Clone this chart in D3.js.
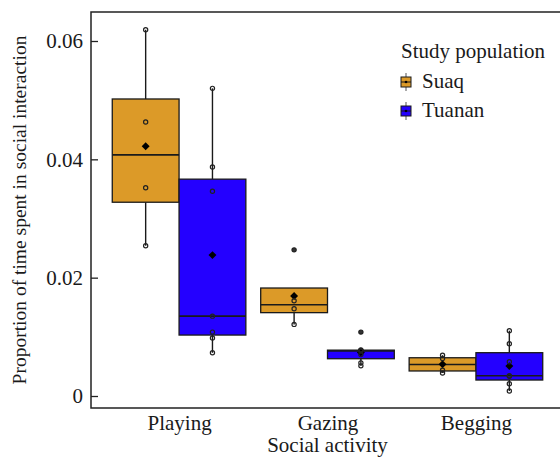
<!DOCTYPE html>
<html>
<head>
<meta charset="utf-8">
<script src="https://cdnjs.cloudflare.com/ajax/libs/d3/7.8.5/d3.min.js"></script>
<style>
    body { margin: 0; background: #fff; }
    svg text { font-family: "Liberation Serif", "Times New Roman", serif; fill: #1a1a1a; }
</style>
</head>
<body>
<div id="chart"></div>
<script>
// values, one list per box
var categories = ["Playing", "Gazing", "Begging"];
var populations = ["Suaq", "Tuanan"];
var colors = ["#dc9a28", "#2400ff"];

var suaqPlaying = [0.0254, 0.0352, 0.0463, 0.0619];
var suaqGazing = [0.0121, 0.01475, 0.0161, 0.0247];
var suaqBegging = [0.0039, 0.00434, 0.00632, 0.0069];
var tuananPlaying = [0.0073, 0.0098, 0.0108, 0.0135, 0.0346, 0.0387, 0.052];
var tuananGazing = [0.0051, 0.0056, 0.0070, 0.0076, 0.0077, 0.0078, 0.0108];
var tuananBegging = [0.00085, 0.00208, 0.00332, 0.00343, 0.0058, 0.00884, 0.01104];

var yTicks = [0, 0.02, 0.04, 0.06];
var yTickLabels = ["0", "0.02", "0.04", "0.06"];

var groups = [
    {cat: "Playing", pop: "Suaq", values: suaqPlaying},
    {cat: "Playing", pop: "Tuanan", values: tuananPlaying},
    {cat: "Gazing", pop: "Suaq", values: suaqGazing},
    {cat: "Gazing", pop: "Tuanan", values: tuananGazing},
    {cat: "Begging", pop: "Suaq", values: suaqBegging},
    {cat: "Begging", pop: "Tuanan", values: tuananBegging}
];

var width = 560, height = 457;
var panel = {left: 91, right: 565, top: 12, bottom: 408};
var fontSize = "21px";

var svg = d3.select("#chart").append("svg")
    .attr("width", width)
    .attr("height", height);

var x = d3.scalePoint()
    .domain(categories)
    .range([panel.left - 1, panel.right])
    .padding(0.6);

var step = x.step();
var boxW = step * 0.45;

var dodge = d3.scaleBand()
    .domain(populations)
    .range([-boxW, boxW]);

var y = d3.scaleLinear()
    .domain([0, 0.06])
    .range([396, 41]);

var fill = d3.scaleOrdinal().domain(populations).range(colors);

// boxplot stats, R style (type 7 quantiles, 1.5 IQR whiskers)
groups.forEach(function(g){
    var v = g.values.slice().sort(d3.ascending);
    g.q1 = d3.quantile(v, 0.25);
    g.med = d3.quantile(v, 0.5);
    g.q3 = d3.quantile(v, 0.75);
    g.mean = d3.mean(v);
    var iqr = g.q3 - g.q1;
    var inside = v.filter(function(d){ return d >= g.q1 - 1.5 * iqr && d <= g.q3 + 1.5 * iqr; });
    g.lo = d3.min(inside);
    g.hi = d3.max(inside);
    g.outliers = v.filter(function(d){ return d < g.lo || d > g.hi; });
    g.cx = x(g.cat) + dodge(g.pop) + dodge.bandwidth() / 2;
});

var plot = svg.append("g");

var box = plot.selectAll("g.box")
    .data(groups)
    .enter().append("g")
    .attr("class", "box");

// whiskers
box.append("line")
    .attr("x1", function(d){ return d.cx; })
    .attr("x2", function(d){ return d.cx; })
    .attr("y1", function(d){ return y(d.hi); })
    .attr("y2", function(d){ return y(d.q3); })
    .style("stroke", "#1a1a1a")
    .style("stroke-width", "1.4px");

box.append("line")
    .attr("x1", function(d){ return d.cx; })
    .attr("x2", function(d){ return d.cx; })
    .attr("y1", function(d){ return y(d.q1); })
    .attr("y2", function(d){ return y(d.lo); })
    .style("stroke", "#1a1a1a")
    .style("stroke-width", "1.4px");

box.append("rect")
    .attr("x", function(d){ return d.cx - boxW / 2; })
    .attr("width", boxW)
    .attr("y", function(d){ return y(d.q3); })
    .attr("height", function(d){ return y(d.q1) - y(d.q3); })
    .style("fill", function(d){ return fill(d.pop); })
    .style("stroke", "#1a1a1a")
    .style("stroke-width", "1.3px");

box.append("line")
    .attr("x1", function(d){ return d.cx - boxW / 2; })
    .attr("x2", function(d){ return d.cx + boxW / 2; })
    .attr("y1", function(d){ return y(d.med); })
    .attr("y2", function(d){ return y(d.med); })
    .style("stroke", "#1a1a1a")
    .style("stroke-width", "1.6px");

// outliers as solid dots
box.selectAll("circle.outlier")
    .data(function(d){ return d.outliers.map(function(v){ return {cx: d.cx, v: v}; }); })
    .enter().append("circle")
    .attr("class", "outlier")
    .attr("cx", function(d){ return d.cx; })
    .attr("cy", function(d){ return y(d.v); })
    .attr("r", 2.2)
    .style("fill", "#333");

// mean diamond
box.append("path")
    .attr("d", d3.symbol().type(d3.symbolDiamond2).size(40))
    .attr("transform", function(d){ return "translate(" + d.cx + "," + y(d.mean) + ")"; })
    .style("fill", "#000");

// individual points
box.selectAll("circle.pt")
    .data(function(d){ return d.values.map(function(v){ return {cx: d.cx, v: v}; }); })
    .enter().append("circle")
    .attr("class", "pt")
    .attr("cx", function(d){ return d.cx; })
    .attr("cy", function(d){ return y(d.v); })
    .attr("r", 2.1)
    .style("fill", "none")
    .style("stroke", "#222")
    .style("stroke-width", "1.2px");

// panel frame
svg.append("path")
    .attr("d", "M" + panel.right + "," + panel.top + "H" + panel.left + "V" + panel.bottom + "H" + panel.right)
    .style("fill", "none")
    .style("stroke", "#222")
    .style("stroke-width", "1.5px");

// y axis, ticks pointing inward
var yAxis = svg.append("g")
    .attr("transform", "translate(" + panel.left + ",0)")
    .call(d3.axisLeft(y)
        .tickValues(yTicks)
        .tickFormat(function(d, i){ return yTickLabels[i]; })
        .tickSize(-7)
        .tickPadding(8));

yAxis.select(".domain").remove();
yAxis.selectAll(".tick line").style("stroke", "#222").style("stroke-width", "1.3px");
yAxis.selectAll("text").style("font-size", fontSize).style("fill", "#1a1a1a");

// x axis, labels only
var xAxis = svg.append("g")
    .attr("transform", "translate(0," + panel.bottom + ")")
    .call(d3.axisBottom(x).tickSize(0).tickPadding(7));

xAxis.select(".domain").remove();
xAxis.selectAll("text").style("font-size", fontSize).style("fill", "#1a1a1a");

svg.append("text")
    .attr("x", x("Gazing"))
    .attr("y", 452)
    .attr("text-anchor", "middle")
    .style("font-size", fontSize)
    .text("Social activity");

svg.append("text")
    .attr("transform", "translate(26," + ((panel.top + panel.bottom) / 2) + ") rotate(-90)")
    .attr("text-anchor", "middle")
    .style("font-size", "19.5px")
    .text("Proportion of time spent in social interaction");

// legend
var legend = svg.append("g").attr("transform", "translate(400,0)");

legend.append("text")
    .attr("x", 1)
    .attr("y", 58)
    .style("font-size", fontSize)
    .text("Study population");

var item = legend.selectAll("g.item")
    .data(populations)
    .enter().append("g")
    .attr("class", "item")
    .attr("transform", function(d, i){ return "translate(0," + (82 + i * 29) + ")"; });

item.append("line")
    .attr("x1", 6).attr("x2", 6)
    .attr("y1", -9).attr("y2", 9)
    .style("stroke", "#555")
    .style("stroke-width", "1px");

item.append("rect")
    .attr("x", 1).attr("y", -5)
    .attr("width", 10).attr("height", 10)
    .style("fill", function(d){ return fill(d); })
    .style("stroke", "#1a1a1a")
    .style("stroke-width", "1px");

item.append("line")
    .attr("x1", 1).attr("x2", 11)
    .attr("y1", 0).attr("y2", 0)
    .style("stroke", "#1a1a1a")
    .style("stroke-width", "1px");

item.append("circle")
    .attr("cx", 6).attr("cy", 0).attr("r", 1.3)
    .style("fill", "#000");

item.append("text")
    .attr("x", 22)
    .attr("y", 6)
    .style("font-size", fontSize)
    .text(function(d){ return d; });
</script>
</body>
</html>
